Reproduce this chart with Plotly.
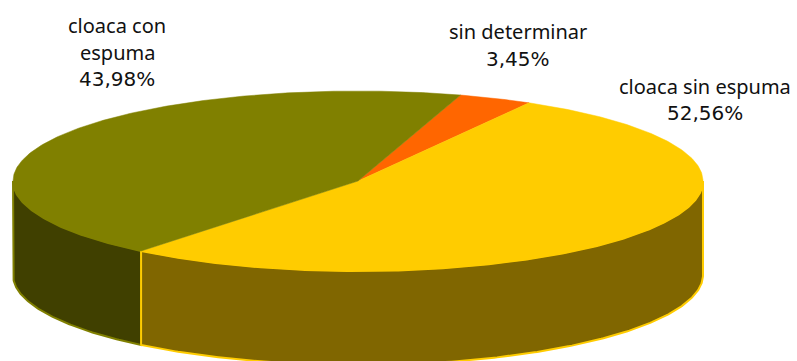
import numpy as np
import plotly.graph_objects as go

# Data
categories = ["sin determinar", "cloaca sin espuma", "cloaca con<br>espuma"]
values = [3.45, 52.56, 43.98]

# Style
top_colors = ["#FF6600", "#FFCC00", "#808000"]
side_colors = ["#803300", "#806600", "#404000"]
line_colors = ["#FF6600", "#FFCC00", "#808000"]
label_x = [517.5, 705, 117]
label_line_y = [[31, 59], [86, 113], [25, 52, 79]]

W, H = 797, 361
CX, CY, RX, RY, DEPTH = 358, 181, 345, 90, 94
START = 17.3  # degrees clockwise from the top


def ex(a):
    return CX + RX * np.sin(np.radians(a))


def ey(a):
    return CY - RY * np.cos(np.radians(a))


shares = np.array(values) / sum(values) * 360
starts = START + np.concatenate([[0], np.cumsum(shares)[:-1]])
ends = starts + shares

fig = go.Figure()

# Visible rim: front half of the pie (90..270 degrees), drawn so the yellow seam is on top
rim = []
for s, e, side, ln in zip(starts, ends, side_colors, line_colors):
    a0, a1 = max(s, 90), min(e, 270)
    if a1 <= a0:
        continue
    a = np.linspace(a0, a1, int(a1 - a0) * 2 + 2)
    x = np.concatenate([ex(a), ex(a[::-1])])
    y = np.concatenate([ey(a), ey(a[::-1]) + DEPTH])
    rim.append(go.Scatter(x=np.append(x, x[0]), y=np.append(y, y[0]), mode="lines",
                          fill="toself", fillcolor=side,
                          line=dict(color=ln, width=2), hoverinfo="skip"))
for tr in rim[::-1]:
    fig.add_trace(tr)

# Top face
for cat, v, s, e, col in zip(categories, values, starts, ends, top_colors):
    a = np.linspace(s, e, int(e - s) * 2 + 2)
    x = np.concatenate([[CX], ex(a), [CX]])
    y = np.concatenate([[CY], ey(a), [CY]])
    fig.add_trace(go.Scatter(x=x, y=y, mode="lines", fill="toself", fillcolor=col,
                             line=dict(color=col, width=0.5), name=cat.replace("<br>", " "),
                             hoverinfo="name"))

for cat, v, lx, ys in zip(categories, values, label_x, label_line_y):
    pct = f"{v:.2f}".replace(".", ",") + "%"
    lines = cat.split("<br>") + [pct]
    for txt, ly in zip(lines, ys):
        fam = "DejaVu Sans" if txt == pct else "Noto Sans"
        fig.add_annotation(x=lx, y=ly, text=txt, showarrow=False, xanchor="center",
                           yanchor="middle", align="center",
                           font=dict(family=fam, size=20, color="#111111"))

fig.update_layout(width=W, height=H, margin=dict(l=0, r=0, t=0, b=0), showlegend=False,
                  paper_bgcolor="white", plot_bgcolor="white",
                  xaxis=dict(range=[0, W], visible=False, fixedrange=True),
                  yaxis=dict(range=[H, 0], visible=False, fixedrange=True))
fig.write_html("out.html", config=dict(displayModeBar=False),
               default_width=f"{W}px", default_height=f"{H}px",
               post_script="document.body.style.margin='0';document.body.style.overflow='hidden';")
